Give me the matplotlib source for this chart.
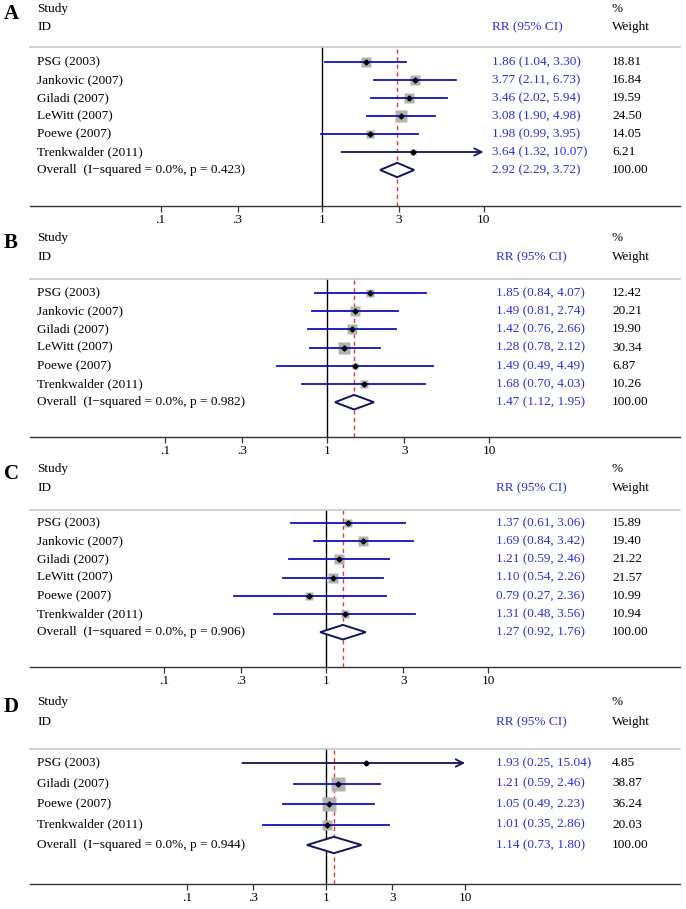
import numpy as np
import matplotlib
matplotlib.use("Agg")
import matplotlib.pyplot as plt
from matplotlib.ticker import NullLocator
from matplotlib.transforms import blended_transform_factory

plt.rcParams["font.family"] = ["Liberation Serif", "DejaVu Serif"]

# ---- data ----
a_studies = ["PSG (2003)", "Jankovic (2007)", "Giladi (2007)", "LeWitt (2007)", "Poewe (2007)", "Trenkwalder (2011)"]
a_rr = [1.86, 3.77, 3.46, 3.08, 1.98, 3.64]
a_lo = [1.04, 2.11, 2.02, 1.90, 0.99, 1.32]
a_hi = [3.30, 6.73, 5.94, 4.98, 3.95, 10.07]
a_wt = [18.81, 16.84, 19.59, 24.50, 14.05, 6.21]
a_overall = [2.92, 2.29, 3.72]
a_het = "I\u2212squared = 0.0%, p = 0.423"

b_studies = ["PSG (2003)", "Jankovic (2007)", "Giladi (2007)", "LeWitt (2007)", "Poewe (2007)", "Trenkwalder (2011)"]
b_rr = [1.85, 1.49, 1.42, 1.28, 1.49, 1.68]
b_lo = [0.84, 0.81, 0.76, 0.78, 0.49, 0.70]
b_hi = [4.07, 2.74, 2.66, 2.12, 4.49, 4.03]
b_wt = [12.42, 20.21, 19.90, 30.34, 6.87, 10.26]
b_overall = [1.47, 1.12, 1.95]
b_het = "I\u2212squared = 0.0%, p = 0.982"

c_studies = ["PSG (2003)", "Jankovic (2007)", "Giladi (2007)", "LeWitt (2007)", "Poewe (2007)", "Trenkwalder (2011)"]
c_rr = [1.37, 1.69, 1.21, 1.10, 0.79, 1.31]
c_lo = [0.61, 0.84, 0.59, 0.54, 0.27, 0.48]
c_hi = [3.06, 3.42, 2.46, 2.26, 2.36, 3.56]
c_wt = [15.89, 19.40, 21.22, 21.57, 10.99, 10.94]
c_overall = [1.27, 0.92, 1.76]
c_het = "I\u2212squared = 0.0%, p = 0.906"

d_studies = ["PSG (2003)", "Giladi (2007)", "Poewe (2007)", "Trenkwalder (2011)"]
d_rr = [1.93, 1.21, 1.05, 1.01]
d_lo = [0.25, 0.59, 0.49, 0.35]
d_hi = [15.04, 2.46, 2.23, 2.86]
d_wt = [4.85, 38.87, 36.24, 20.03]
d_overall = [1.14, 0.73, 1.80]
d_het = "I\u2212squared = 0.0%, p = 0.944"

tick_vals = [0.1, 0.3, 1, 3, 10]
tick_labels = [".1", ".3", "1", "3", "10"]
x_cap = 10  # CIs beyond this end in an arrow

# ---- layout (pixels from top-left of the 686x909 image) ----
W, H = 686, 909
panels = [
    # letter, data, gray line y, axis y, first row y, row step, x of "1", px per decade, study y, id y, rr x
    ("A", (a_studies, a_rr, a_lo, a_hi, a_wt, a_overall, a_het), 47, 206, 62, 18.0, 322, 161.5, 9, 27, 492),
    ("B", (b_studies, b_rr, b_lo, b_hi, b_wt, b_overall, b_het), 279, 437, 293, 18.2, 327, 162, 238, 257, 496),
    ("C", (c_studies, c_rr, c_lo, c_hi, c_wt, c_overall, c_het), 510, 667, 523, 18.2, 326, 162, 469, 488, 496),
    ("D", (d_studies, d_rr, d_lo, d_hi, d_wt, d_overall, d_het), 749, 884, 763, 20.5, 326, 139, 702, 722, 496),
]

FS = 9.5
BLUE_TXT = "#2f2fd6"
CI_BLUE = "#1010c0"
NAVY = "#14145a"
BOX_GRAY = "#b2b2b2"
LEFT, RIGHT = 30, 680
NAME_X, WT_X = 37, 612


def fx(px):
    return px / W


def fy(py):
    return 1 - py / H


fig = plt.figure(figsize=(W / 100, H / 100), dpi=100)

for letter, data, gray_y, axis_y, y0, dy, x1, dec, study_y, id_y, rr_x in panels:
    studies, rr, lo, hi, wt, overall, het = data

    ax = fig.add_axes([fx(LEFT), fy(axis_y), fx(RIGHT) - fx(LEFT), (axis_y - gray_y) / H])
    ax.set_xscale("log")
    ax.set_xlim(10 ** ((LEFT - x1) / dec), 10 ** ((RIGHT - x1) / dec))
    ax.set_ylim((axis_y - y0) / dy, (gray_y - y0) / dy)
    ax.patch.set_alpha(0)

    for side in ["left", "right"]:
        ax.spines[side].set_visible(False)
    ax.spines["top"].set_color("#c8c8c8")
    ax.spines["top"].set_linewidth(1.2)
    ax.spines["bottom"].set_color("#333333")
    ax.spines["bottom"].set_linewidth(1.0)

    ax.set_xticks(tick_vals)
    ax.set_xticklabels(tick_labels)
    ax.xaxis.set_minor_locator(NullLocator())
    ax.tick_params(axis="x", direction="out", length=4, width=0.9, color="#333333", labelsize=FS, pad=2)
    ax.tick_params(axis="y", left=False, labelleft=False)

    ax.axvline(1, color="black", lw=1.0, zorder=1)
    ax.axvline(overall[0], color="#e0393e", lw=1.0, ls=(0, (3, 2.5)), zorder=1)

    tr = blended_transform_factory(fig.transFigure, ax.transData)

    for i in range(len(studies)):
        side_px = 2.25 * np.sqrt(wt[i])
        ax.plot(rr[i], i, marker="s", ms=side_px * 0.72, color=BOX_GRAY, mec="none", zorder=2)
        if hi[i] > x_cap:
            ax.annotate("", xy=(x_cap, i), xytext=(lo[i], i),
                        arrowprops=dict(arrowstyle="->", color=NAVY, lw=1.3, mutation_scale=13,
                                        shrinkA=0, shrinkB=0), zorder=3)
        else:
            ax.plot([lo[i], hi[i]], [i, i], color=CI_BLUE, lw=1.3, zorder=3)
        ax.plot(rr[i], i, marker="D", ms=2.6, color="black", zorder=4)

        ax.text(fx(NAME_X), i, studies[i], transform=tr, fontsize=FS, va="center", ha="left")
        ax.text(fx(rr_x), i, f"{rr[i]:.2f} ({lo[i]:.2f}, {hi[i]:.2f})", transform=tr,
                fontsize=FS, va="center", ha="left", color=BLUE_TXT)
        ax.text(fx(WT_X), i, f"{wt[i]:.2f}", transform=tr, fontsize=FS, va="center", ha="left")

    k = len(studies)
    h = 0.4
    ax.fill([overall[1], overall[0], overall[2], overall[0]], [k, k - h, k, k + h],
            facecolor="white", edgecolor=NAVY, lw=1.4, zorder=3)
    ax.text(fx(NAME_X), k, f"Overall  ({het})", transform=tr, fontsize=FS, va="center", ha="left")
    ax.text(fx(rr_x), k, f"{overall[0]:.2f} ({overall[1]:.2f}, {overall[2]:.2f})", transform=tr,
            fontsize=FS, va="center", ha="left", color=BLUE_TXT)
    ax.text(fx(WT_X), k, "100.00", transform=tr, fontsize=FS, va="center", ha="left")

    # header
    fig.text(fx(4), fy(study_y + 5), letter, fontsize=15, fontweight="bold", va="center", ha="left")
    fig.text(fx(NAME_X), fy(study_y), "Study", fontsize=FS, va="center", ha="left")
    fig.text(fx(NAME_X), fy(id_y), "ID", fontsize=FS, va="center", ha="left")
    fig.text(fx(WT_X), fy(study_y), "%", fontsize=FS, va="center", ha="left")
    fig.text(fx(WT_X), fy(id_y), "Weight", fontsize=FS, va="center", ha="left")
    fig.text(fx(rr_x), fy(id_y), "RR (95% CI)", fontsize=FS, va="center", ha="left", color=BLUE_TXT)

fig.savefig("out.png", dpi=100)
